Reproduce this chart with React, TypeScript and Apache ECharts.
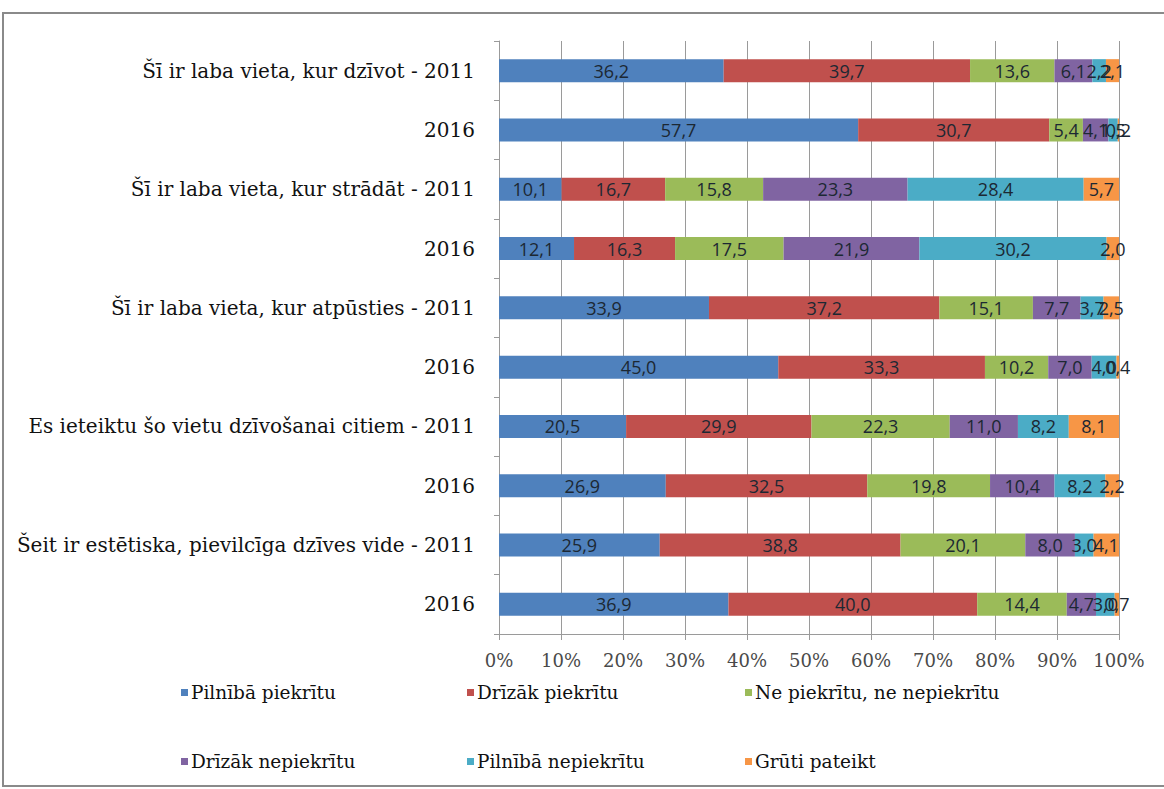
import React, { useEffect, useRef } from "react";
import * as echarts from "echarts";

const categories = [
  "Šī ir laba vieta, kur dzīvot - 2011",
  "2016",
  "Šī ir laba vieta, kur strādāt - 2011",
  "2016",
  "Šī ir laba vieta, kur atpūsties - 2011",
  "2016",
  "Es ieteiktu šo vietu dzīvošanai citiem - 2011",
  "2016",
  "Šeit ir estētiska, pievilcīga dzīves vide - 2011",
  "2016",
];

const seriesNames = [
  "Pilnībā piekrītu",
  "Drīzāk piekrītu",
  "Ne piekrītu, ne nepiekrītu",
  "Drīzāk nepiekrītu",
  "Pilnībā nepiekrītu",
  "Grūti pateikt",
];

const pilnibaPiekritu = [36.2, 57.7, 10.1, 12.1, 33.9, 45.0, 20.5, 26.9, 25.9, 36.9];
const drizakPiekritu = [39.7, 30.7, 16.7, 16.3, 37.2, 33.3, 29.9, 32.5, 38.8, 40.0];
const nePiekritu = [13.6, 5.4, 15.8, 17.5, 15.1, 10.2, 22.3, 19.8, 20.1, 14.4];
const drizakNepiekritu = [6.1, 4.1, 23.3, 21.9, 7.7, 7.0, 11.0, 10.4, 8.0, 4.7];
const pilnibaNepiekritu = [2.2, 1.5, 28.4, 30.2, 3.7, 4.0, 8.2, 8.2, 3.0, 3.0];
const grutiPateikt = [2.1, 0.2, 5.7, 2.0, 2.5, 0.4, 8.1, 2.2, 4.1, 0.7];

const xTicks = ["0%", "10%", "20%", "30%", "40%", "50%", "60%", "70%", "80%", "90%", "100%"];

const colors = ["#4F81BD", "#C0504D", "#9BBB59", "#8064A2", "#4BACC6", "#F79646"];

const allValues = [
  pilnibaPiekritu,
  drizakPiekritu,
  nePiekritu,
  drizakNepiekritu,
  pilnibaNepiekritu,
  grutiPateikt,
];

export default function App() {
  const ref = useRef<HTMLDivElement>(null);

  useEffect(() => {
    if (!ref.current) return;
    const chart = echarts.init(ref.current, null, { renderer: "svg" });

    // 100% stacked: normalize each row so it fills the axis, keep raw values for labels
    const totals = categories.map((_, i) =>
      allValues.reduce((s, arr) => s + arr[i], 0)
    );

    const series = allValues.map((arr, si) => ({
      name: seriesNames[si],
      type: "bar",
      stack: "total",
      barWidth: 23,
      itemStyle: { color: colors[si] },
      label: {
        show: true,
        position: "inside",
        color: "#1c2833",
        fontFamily: "Open Sans",
        fontSize: 18,
        formatter: (p: any) => arr[p.dataIndex].toFixed(1).replace(".", ","),
      },
      data: arr.map((v, i) => (v / totals[i]) * 100),
    }));

    const legendPos = [
      { left: 176, top: 678 },
      { left: 462, top: 678 },
      { left: 740, top: 678 },
      { left: 176, top: 747 },
      { left: 462, top: 747 },
      { left: 740, top: 747 },
    ];

    chart.setOption({
      animation: false,
      backgroundColor: "#ffffff",
      grid: { left: 499, right: 45, top: 41, bottom: 155 },
      xAxis: {
        type: "value",
        min: 0,
        max: 100,
        interval: 10,
        axisLine: { show: true, lineStyle: { color: "#9a9a9a" } },
        axisTick: { show: true, length: 6, lineStyle: { color: "#9a9a9a" } },
        splitLine: { show: true, lineStyle: { color: "#9a9a9a", width: 1 } },
        axisLabel: {
          margin: 17,
          color: "#4a4a4a",
          fontFamily: "DejaVu Serif",
          fontSize: 18,
          formatter: (v: number) => xTicks[Math.round(v / 10)],
        },
      },
      yAxis: {
        type: "category",
        inverse: true,
        data: categories,
        axisLine: { show: true, lineStyle: { color: "#9a9a9a" } },
        axisTick: { show: true, length: 5, lineStyle: { color: "#9a9a9a" } },
        axisLabel: {
          margin: 24,
          color: "#111",
          fontFamily: "DejaVu Serif",
          fontSize: 20,
        },
      },
      legend: seriesNames.map((n, i) => ({
        data: [n],
        left: legendPos[i].left,
        top: legendPos[i].top,
        itemWidth: 7,
        itemHeight: 7,
        itemGap: 0,
        icon: "rect",
        selectedMode: false,
        textStyle: {
          fontFamily: "DejaVu Serif",
          fontSize: 18.5,
          color: "#111",
          padding: [0, 0, 0, -2],
        },
      })),
      graphic: [
        {
          type: "rect",
          shape: { x: 3, y: 13, width: 1175, height: 773 },
          style: { fill: "none", stroke: "#8a8a8a", lineWidth: 2 },
          silent: true,
          z: -1,
        },
      ],
      series,
    });

    return () => chart.dispose();
  }, []);

  return (
    <div
      ref={ref}
      style={{ position: "fixed", left: 0, top: 0, width: 1164, height: 789 }}
    />
  );
}
